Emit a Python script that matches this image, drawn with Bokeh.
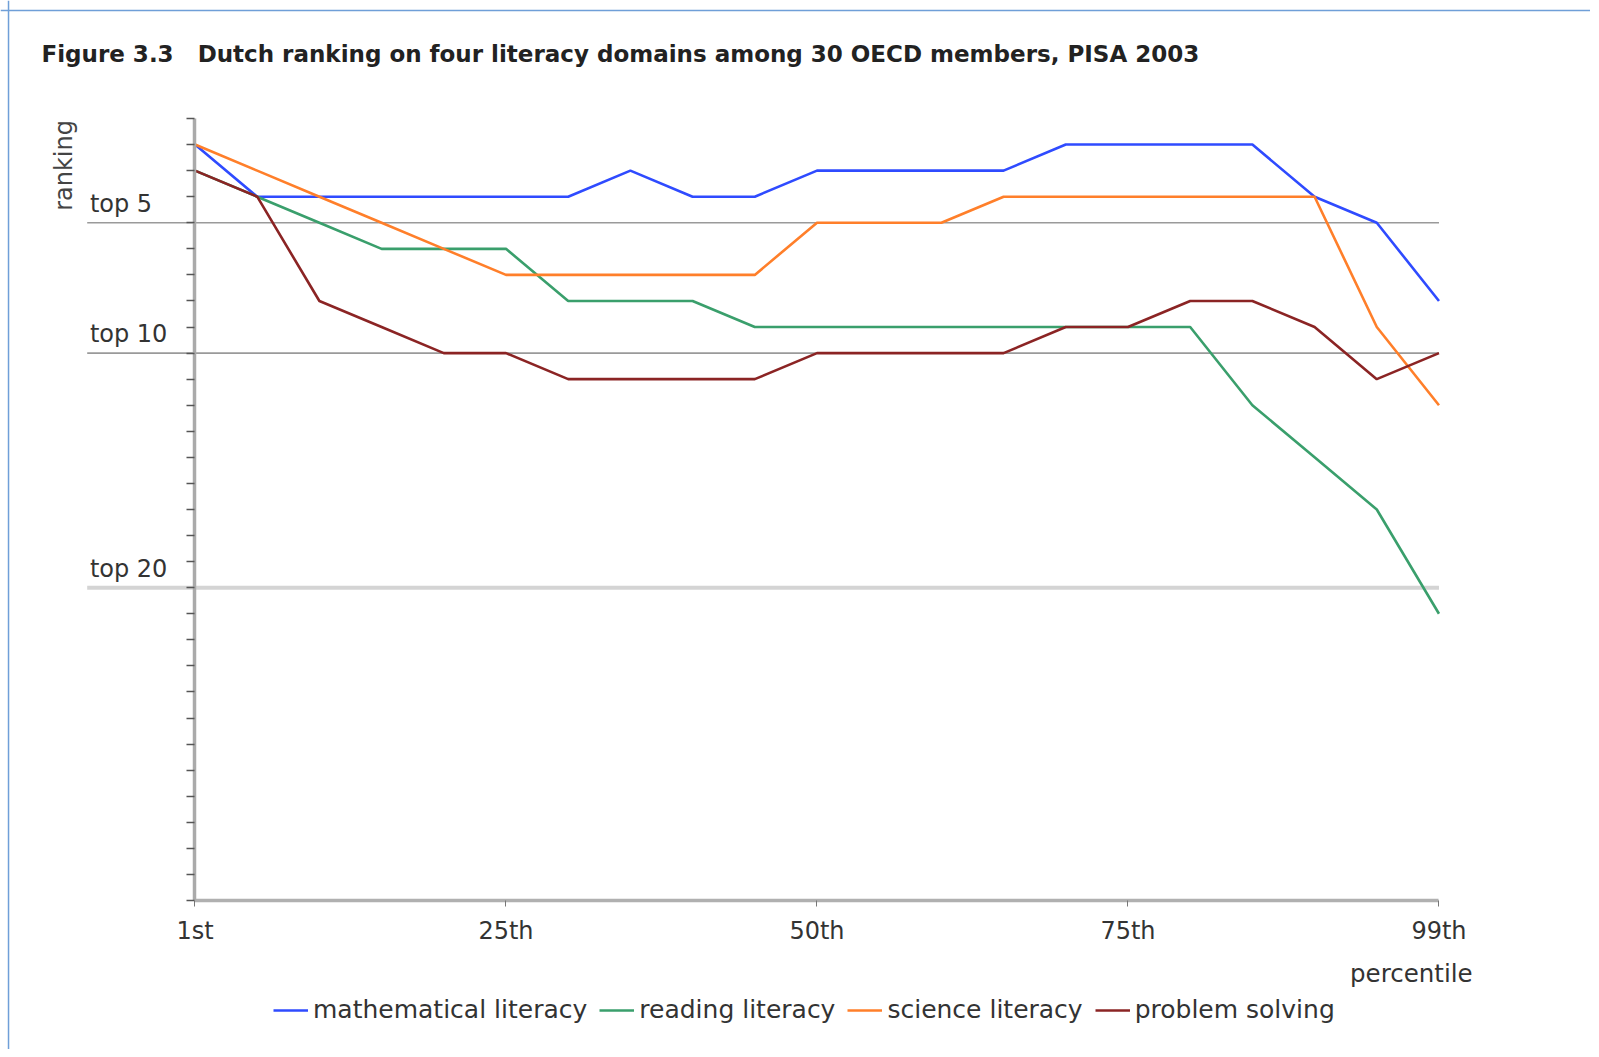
import math as _m
from bokeh.plotting import figure
from bokeh.models import Range1d, FixedTicker, Legend, LegendItem, Span
from bokeh.core.properties import value
from bokeh.embed import file_html
from bokeh.resources import INLINE

# ---- data (rank position on the axis: 0 = top, 30 = bottom) ----
pct_index = list(range(21))          # 1st, 5th, 10th, ... 95th, 99th percentile
tick_index = [0, 5, 10, 15, 20]
tick_labels = ["1st", "25th", "50th", "75th", "99th"]

mathematical = [1, 3, 3, 3, 3, 3, 3, 2, 3, 3, 2, 2, 2, 2, 1, 1, 1, 1, 3, 4, 7]
reading      = [2, 3, 4, 5, 5, 5, 7, 7, 7, 8, 8, 8, 8, 8, 8, 8, 8, 11, 13, 15, 19]
science      = [1, 2, 3, 4, 5, 6, 6, 6, 6, 6, 4, 4, 4, 3, 3, 3, 3, 3, 3, 8, 11]
problem      = [2, 3, 7, 8, 9, 9, 10, 10, 10, 10, 9, 9, 9, 9, 8, 8, 7, 7, 8, 10, 9]

series_names = ["mathematical literacy", "reading literacy", "science literacy", "problem solving"]
series_colors = ["#2f4bff", "#3a9f6c", "#ff7f2a", "#8b2424"]

ref_ranks = [4, 9, 18]
ref_labels = ["top 5", "top 10", "top 20"]

title_text = "Figure 3.3\u00a0\u00a0\u00a0Dutch ranking on four literacy domains among 30 OECD members, PISA 2003"

FONT = "DejaVu Sans"
W, H = 1590, 1049

p = figure(frame_width=W, frame_height=H, title=None,
           x_range=Range1d(-3.127, 22.436), y_range=Range1d(35.716, -4.527),
           output_backend="svg", toolbar_location=None, min_border=0)
p.grid.visible = False
p.outline_line_color = None
p.background_fill_color = "white"
p.border_fill_color = "white"

# page frame (blue rule on the left and top)
p.add_layout(Span(location=-2.998, dimension="height", line_color="#6f9fd8", line_width=1.5))
p.add_layout(Span(location=-4.143, dimension="width", line_color="#6f9fd8", line_width=1.5))

# title
p.text(x=[-2.468], y=[-2.49], text=[title_text], text_font=value(FONT),
       text_font_size="23px", text_font_style="bold", text_color="#222222",
       text_align="left", text_baseline="middle")

# reference lines (top 5 / top 10 / top 20)
x_left = -1.733
x_right = pct_index[-1]
p.segment(x0=[x_left] * 2, y0=ref_ranks[:2], x1=[x_right] * 2, y1=ref_ranks[:2],
          line_color="#9a9a9a", line_width=1.6)
p.segment(x0=[x_left], y0=ref_ranks[2:], x1=[x_right], y1=ref_ranks[2:],
          line_color="#d4d4d4", line_width=4)
p.text(x=[-1.69] * 3, y=[r - 0.73 for r in ref_ranks], text=ref_labels,
       text_font=value(FONT), text_font_size="24px", text_color="#333333",
       text_align="left", text_baseline="alphabetic")

# axis titles
p.text(x=[-2.114], y=[1.80], text=["ranking"], angle=_m.pi / 2,
       text_font=value(FONT), text_font_size="24px", text_color="#444444",
       text_align="center", text_baseline="middle")
p.text(x=[20.54], y=[32.80], text=["percentile"],
       text_font=value(FONT), text_font_size="24.5px", text_color="#333333",
       text_align="right", text_baseline="middle")

# y axis at the 1st percentile, tick marks only
ya = p.yaxis[0]
ya.fixed_location = 0
ya.bounds = (0, 30)
ya.ticker = FixedTicker(ticks=[], minor_ticks=list(range(0, 31)))
ya.major_tick_out = 0
ya.major_tick_in = 0
ya.minor_tick_out = 8
ya.minor_tick_in = 0
ya.minor_tick_line_color = "#555555"
ya.minor_tick_line_width = 1.5
ya.axis_line_color = "#aaaaaa"
ya.axis_line_width = 3.5

# x axis at the bottom of the ranking scale
xa = p.xaxis[0]
xa.fixed_location = 30
xa.bounds = (0, 20)
xa.ticker = FixedTicker(ticks=tick_index, minor_ticks=[])
xa.major_label_overrides = {t: l for t, l in zip(tick_index, tick_labels)}
xa.major_tick_out = 6
xa.major_tick_in = 0
xa.minor_tick_out = 0
xa.minor_tick_in = 0
xa.axis_line_color = "#b0b0b0"
xa.axis_line_width = 3.5
xa.major_tick_line_color = "#777777"
xa.major_label_text_font = FONT
xa.major_label_text_font_size = "24px"
xa.major_label_text_color = "#333333"
xa.major_label_standoff = 10

renderers = []
for ys, c in zip([mathematical, reading, science, problem], series_colors):
    r = p.line(pct_index, ys, line_color=c, line_width=2.6)
    renderers.append(r)

legend = Legend(items=[LegendItem(label=n, renderers=[r]) for n, r in zip(series_names, renderers)],
                orientation="horizontal", location=(273, 25), margin=0, padding=0,
                glyph_width=35, glyph_height=24, label_standoff=5, spacing=12,
                label_text_font=FONT, label_text_font_size="25px", label_text_color="#333333",
                border_line_alpha=0, background_fill_alpha=0)
p.add_layout(legend)

open("out.html", "w").write(file_html(p, INLINE))
